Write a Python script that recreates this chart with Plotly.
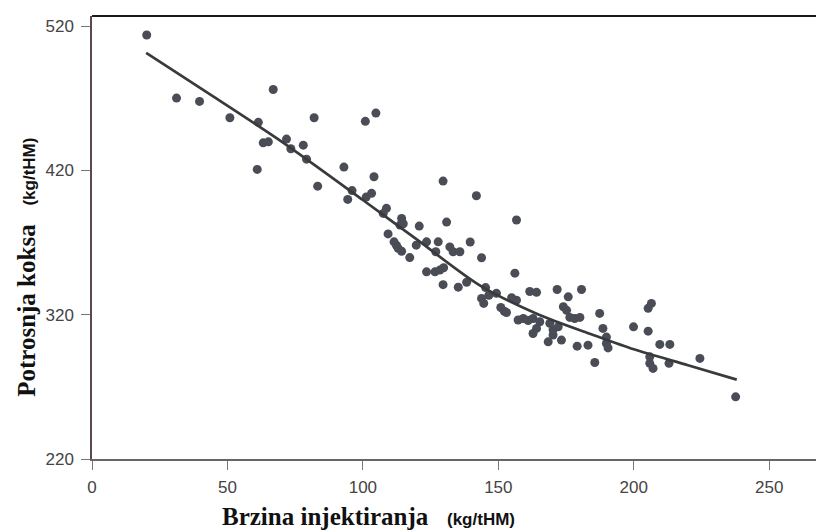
import plotly.graph_objects as go

# Scatter data: injection rate (kg/tHM) vs coke consumption (kg/tHM)
inj_rate = [20.2, 31.2, 39.7, 50.9, 61.4, 66.9, 63.2, 65.1, 61.0, 71.8,
            73.4, 78.0, 79.2, 82.0, 83.3, 93.0, 94.4, 96.0, 101.2, 103.2,
            104.1, 100.9, 104.8, 107.5, 108.7, 109.3, 114.3, 114.9, 113.7, 111.5,
            112.4, 113.0, 114.3, 117.3, 120.8, 119.7, 123.5, 127.8, 126.9, 132.1,
            133.3, 135.8, 130.9, 129.6, 139.6, 141.9, 143.8, 123.5, 126.6, 128.4,
            129.8, 129.6, 135.2, 138.3, 145.3, 146.5, 143.8, 144.6, 149.3, 150.9,
            152.2, 153.0, 156.7, 156.1, 154.9, 156.7, 161.6, 164.1, 157.3, 159.2,
            161.0, 162.8, 164.1, 162.8, 165.3, 169.0, 170.2, 172.1, 170.2, 168.4,
            173.3, 171.7, 180.7, 175.8, 174.0, 175.2, 176.4, 178.2, 180.1, 179.1,
            183.1, 185.6, 187.4, 188.6, 189.9, 189.9, 190.5, 199.9, 205.3, 205.3,
            206.5, 209.6, 213.3, 205.9, 205.9, 207.1, 213.0, 224.4, 237.6]
coke_rate = [513.8, 470.1, 467.8, 456.5, 453.3, 476.1, 439.1, 439.8, 420.7, 441.7,
             435.0, 437.5, 427.8, 456.5, 409.1, 422.3, 399.9, 406.0, 401.5, 404.1,
             415.6, 454.0, 459.7, 390.2, 393.7, 376.0, 386.7, 383.0, 382.1, 370.5,
             368.0, 366.0, 364.0, 359.6, 381.4, 368.2, 370.5, 370.5, 363.6, 367.0,
             363.6, 363.6, 384.2, 412.6, 370.4, 402.4, 359.5, 349.7, 349.7, 350.9,
             352.5, 340.8, 339.1, 342.5, 338.8, 333.5, 331.3, 327.8, 334.8, 325.0,
             322.4, 321.5, 385.6, 348.8, 331.8, 330.1, 336.1, 335.5, 316.3, 317.4,
             316.0, 317.4, 310.5, 307.0, 315.1, 314.0, 309.5, 311.6, 305.9, 301.2,
             302.4, 337.5, 337.5, 332.4, 325.5, 323.0, 318.1, 317.4, 318.1, 298.2,
             298.9, 286.9, 320.9, 310.5, 304.5, 300.1, 297.0, 311.6, 308.6, 324.4,
             327.8, 299.4, 299.4, 290.8, 286.3, 282.8, 286.3, 289.7, 263.1]

# Trend curve
trend_x = [20, 45, 70, 100, 120, 143, 165, 185, 200, 220, 238]
trend_y = [501.5, 471, 440, 399.5, 372, 340.5, 320, 306, 296, 285, 275]

x_ticks = [0, 50, 100, 150, 200, 250]
y_ticks = [220, 320, 420, 520]

x_title = "Brzina injektiranja"
y_title = "Potrosnja koksa"
unit = "(kg/tHM)"

fig = go.Figure()
fig.add_trace(go.Scatter(
    x=inj_rate, y=coke_rate, mode="markers",
    marker=dict(size=9, color="#4a4c56", line=dict(width=0)),
    showlegend=False, hoverinfo="x+y"))
fig.add_trace(go.Scatter(
    x=trend_x, y=trend_y, mode="lines",
    line=dict(color="#383a3c", width=2.7, shape="spline", smoothing=0.8),
    showlegend=False, hoverinfo="skip"))

tick_font = dict(family="Liberation Sans, Arial, sans-serif", size=17, color="#444444")

# the page body adds an 8 px margin, so the figure is 816x524
fig.update_layout(
    width=816, height=524,
    margin=dict(l=84, r=6, t=8, b=73),
    paper_bgcolor="white", plot_bgcolor="white",
    xaxis=dict(range=[0, 268], tickvals=x_ticks, ticks="outside", ticklen=9,
               tickcolor="#777777", tickwidth=1.2, showgrid=False, zeroline=False,
               showline=True, linecolor="#666666", linewidth=1.5,
               tickfont=tick_font, ticklabelstandoff=3),
    yaxis=dict(range=[220, 527], tickvals=y_ticks, ticks="outside", ticklen=9,
               tickcolor="#777777", tickwidth=1.2, showgrid=False, zeroline=False,
               showline=True, linecolor="#5a4a50", linewidth=1.5,
               tickfont=tick_font, ticklabelstandoff=4),
    shapes=[
        dict(type="line", xref="paper", yref="paper", x0=0, x1=1, y0=1, y1=1,
             line=dict(color="#1a1a1a", width=2.2)),
        dict(type="line", xref="paper", yref="paper", x0=1, x1=1, y0=0, y1=1,
             line=dict(color="#e4e4e4", width=1)),
    ],
    annotations=[
        dict(xref="paper", yref="paper", x=0.3815, y=-0.13, xanchor="center", yanchor="middle",
             showarrow=False,
             text=x_title + "   <span style='font-family:Liberation Sans, Arial, sans-serif;font-size:17px'>" + unit + "</span>",
             font=dict(family="Liberation Serif, Times New Roman, serif", size=25, color="#111111", weight="bold")),
        dict(xref="paper", yref="paper", x=-0.09, y=0.433, xanchor="center", yanchor="middle",
             showarrow=False, textangle=-90,
             text=y_title + "   <span style='font-family:Liberation Sans, Arial, sans-serif;font-size:17px'>" + unit + "</span>",
             font=dict(family="Liberation Serif, Times New Roman, serif", size=25, color="#111111", weight="bold")),
    ],
)

fig.write_html("out.html")
